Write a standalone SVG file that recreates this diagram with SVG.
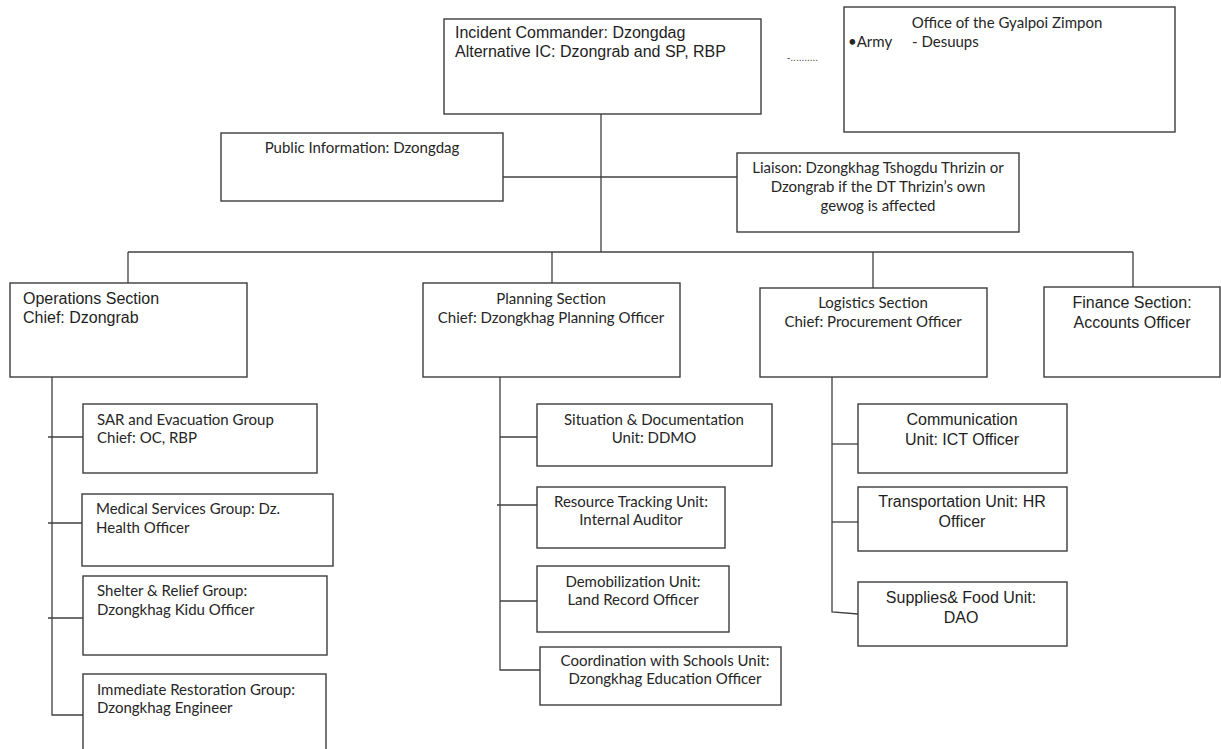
<svg xmlns="http://www.w3.org/2000/svg" width="1221" height="749" viewBox="0 0 1221 749">
  <style>
    .box { fill: #ffffff; stroke: #3c3c3c; stroke-width: 1.4; }
    .wire { fill: none; stroke: #404040; stroke-width: 1.3; }
    .arial { font-family: "Liberation Sans", Arial, sans-serif; font-size: 16px; fill: #1e1e1e; }
    .cal { font-family: Lato, "Noto Sans", sans-serif; font-size: 15px; fill: #262626; }
    .mid { text-anchor: middle; }
    .dots { font-family: "Liberation Sans", Arial, sans-serif; font-size: 10px; fill: #4a4a4a; }
  </style>
  <rect width="1221" height="749" fill="#ffffff"/>

  <!-- connectors -->
  <g id="connectors">
    <path class="wire" d="M601 114 V252"/>
    <path class="wire" d="M503 177 H737"/>
    <path class="wire" d="M128 252 H1133"/>
    <path class="wire" d="M128 252 V283"/>
    <path class="wire" d="M552 252 V283"/>
    <path class="wire" d="M873 252 V288"/>
    <path class="wire" d="M1133 252 V287"/>
    <!-- operations groups -->
    <path class="wire" d="M52 377 V715 H83"/>
    <path class="wire" d="M48 437 H83"/>
    <path class="wire" d="M48 523 H82"/>
    <path class="wire" d="M48 618 H83"/>
    <!-- planning units -->
    <path class="wire" d="M500 377 V670 H540"/>
    <path class="wire" d="M500 437 H537"/>
    <path class="wire" d="M497 505 H537"/>
    <path class="wire" d="M500 601 H537"/>
    <!-- logistics units -->
    <path class="wire" d="M832 377 V612 L858 614"/>
    <path class="wire" d="M832 444 H858"/>
    <path class="wire" d="M832 522 H858"/>
  </g>

  <g id="incident-commander">
    <rect class="box" x="444" y="19" width="317" height="95"/>
    <text class="arial" x="455" y="38">Incident Commander: Dzongdag</text>
    <text class="arial" x="455" y="57">Alternative IC: Dzongrab and SP, RBP</text>
  </g>
  <text class="dots" x="787" y="61">-..........</text>

  <g id="gyalpoi-zimpon">
    <rect class="box" x="844" y="7" width="331" height="125"/>
    <text class="cal mid" x="1007" y="28">Office of the Gyalpoi Zimpon</text>
    <text class="cal" x="848" y="47">•Army</text>
    <text class="cal" x="912" y="47">- Desuups</text>
  </g>

  <g id="public-information">
    <rect class="box" x="221" y="133" width="282" height="68"/>
    <text class="cal mid" x="362" y="153">Public Information: Dzongdag</text>
  </g>

  <g id="liaison">
    <rect class="box" x="737" y="153" width="282" height="79"/>
    <text class="cal mid" x="878" y="173">Liaison: Dzongkhag Tshogdu Thrizin or</text>
    <text class="cal mid" x="878" y="192">Dzongrab if the DT Thrizin’s own</text>
    <text class="cal mid" x="878" y="211">gewog is affected</text>
  </g>

  <g id="operations-section">
    <rect class="box" x="10" y="283" width="237" height="94"/>
    <text class="arial" x="23" y="304">Operations Section</text>
    <text class="arial" x="23" y="323">Chief: Dzongrab</text>
  </g>

  <g id="planning-section">
    <rect class="box" x="423" y="283" width="257" height="94"/>
    <text class="cal mid" x="551" y="304">Planning Section</text>
    <text class="cal mid" x="551" y="323">Chief: Dzongkhag Planning Officer</text>
  </g>

  <g id="logistics-section">
    <rect class="box" x="760" y="288" width="227" height="89"/>
    <text class="cal mid" x="873" y="308">Logistics Section</text>
    <text class="cal mid" x="873" y="327">Chief: Procurement Officer</text>
  </g>

  <g id="finance-section">
    <rect class="box" x="1044" y="287" width="176" height="90"/>
    <text class="arial mid" x="1132" y="308">Finance Section:</text>
    <text class="arial mid" x="1132" y="328">Accounts Officer</text>
  </g>

  <g id="sar-group">
    <rect class="box" x="83" y="404" width="234" height="69"/>
    <text class="cal" x="97" y="425">SAR and Evacuation Group</text>
    <text class="cal" x="97" y="443">Chief: OC, RBP</text>
  </g>

  <g id="medical-group">
    <rect class="box" x="82" y="494" width="251" height="72"/>
    <text class="cal" x="96" y="514">Medical Services Group: Dz.</text>
    <text class="cal" x="96" y="533">Health Officer</text>
  </g>

  <g id="shelter-group">
    <rect class="box" x="83" y="576" width="244" height="79"/>
    <text class="cal" x="97" y="596">Shelter &amp; Relief Group:</text>
    <text class="cal" x="97" y="615">Dzongkhag Kidu Officer</text>
  </g>

  <g id="restoration-group">
    <rect class="box" x="83" y="674" width="243" height="85"/>
    <text class="cal" x="97" y="695">Immediate Restoration Group:</text>
    <text class="cal" x="97" y="713">Dzongkhag Engineer</text>
  </g>

  <g id="situation-unit">
    <rect class="box" x="537" y="404" width="235" height="62"/>
    <text class="cal mid" x="654" y="425">Situation &amp; Documentation</text>
    <text class="cal mid" x="654" y="443">Unit: DDMO</text>
  </g>

  <g id="resource-unit">
    <rect class="box" x="537" y="487" width="188" height="61"/>
    <text class="cal mid" x="631" y="507">Resource Tracking Unit:</text>
    <text class="cal mid" x="631" y="525">Internal Auditor</text>
  </g>

  <g id="demobilization-unit">
    <rect class="box" x="537" y="566" width="192" height="66"/>
    <text class="cal mid" x="633" y="587">Demobilization Unit:</text>
    <text class="cal mid" x="633" y="605">Land Record Officer</text>
  </g>

  <g id="schools-unit">
    <rect class="box" x="540" y="647" width="241" height="58"/>
    <text class="cal mid" x="665" y="666">Coordination with Schools Unit:</text>
    <text class="cal mid" x="665" y="684">Dzongkhag Education Officer</text>
  </g>

  <g id="communication-unit">
    <rect class="box" x="858" y="404" width="209" height="69"/>
    <text class="arial mid" x="962" y="425">Communication</text>
    <text class="arial mid" x="962" y="445">Unit: ICT Officer</text>
  </g>

  <g id="transportation-unit">
    <rect class="box" x="858" y="487" width="209" height="64"/>
    <text class="arial mid" x="962" y="507">Transportation Unit: HR</text>
    <text class="arial mid" x="962" y="527">Officer</text>
  </g>

  <g id="supplies-unit">
    <rect class="box" x="858" y="582" width="209" height="64"/>
    <text class="arial mid" x="961" y="603">Supplies&amp; Food Unit:</text>
    <text class="arial mid" x="961" y="623">DAO</text>
  </g>
</svg>
